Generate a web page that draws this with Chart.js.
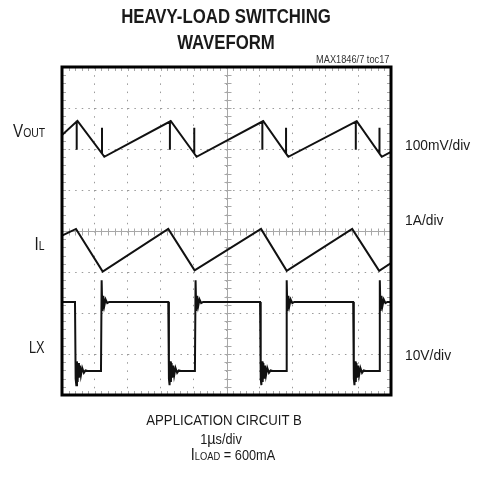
<!DOCTYPE html>
<html>
<head>
<meta charset="utf-8">
<script src="https://cdn.jsdelivr.net/npm/chart.js@4.4.1/dist/chart.umd.min.js"></script>
<style>
  body { margin: 0; background: #fff; }
  #wrap { position: relative; width: 480px; height: 481px; font-family: "Liberation Sans", Arial, sans-serif; color: #1a1a1a; }
  #wrap canvas { position: absolute; left: 0; top: 0; }
  .t { position: absolute; white-space: nowrap; line-height: 1; }
  .c { transform: translateX(-50%) scaleX(0.85); }
  .r { transform-origin: right; transform: scaleX(0.8); }
  .l { transform-origin: left; transform: scaleX(0.92); }
</style>
</head>
<body>
<div id="wrap">
  <canvas id="scope" width="480" height="481"></canvas>

  <div class="t" style="left:226px; top:4.5px; font-size:21px; font-weight:bold; transform:translateX(-50%) scaleX(0.8)">HEAVY-LOAD SWITCHING</div>
  <div class="t" style="left:226px; top:31px; font-size:21px; font-weight:bold; transform:translateX(-50%) scaleX(0.8)">WAVEFORM</div>
  <div class="t" style="right:91px; top:54.4px; font-size:10.5px; color:#333; transform-origin:right; transform:scaleX(0.88)">MAX1846/7 toc17</div>

  <div class="t r" style="right:435px; top:121px; font-size:19px">V<span style="font-size:13px">OUT</span></div>
  <div class="t r" style="right:435px; top:234px; font-size:19px">I<span style="font-size:13px">L</span></div>
  <div class="t r" style="right:435px; top:340px; font-size:16px">LX</div>

  <div class="t l" style="left:405px; top:136.6px; font-size:15px">100mV/div</div>
  <div class="t l" style="left:405px; top:211.6px; font-size:15px">1A/div</div>
  <div class="t l" style="left:405px; top:346.5px; font-size:15px">10V/div</div>

  <div class="t c" style="left:224px; top:412px; font-size:15.5px">APPLICATION CIRCUIT B</div>
  <div class="t c" style="left:221px; top:429.8px; font-size:15px">1<span style="font-size:17px">µ</span>s/div</div>
  <div class="t c" style="left:233px; top:445.5px; font-size:15px"><span style="font-size:17px">I</span><span style="font-size:11px">LOAD</span> = 600mA</div>
</div>

<script>
// time axis in divisions (1 µs/div), levels in screen divisions (0 = bottom graticule line)
const gridX = [0, 1, 2, 3, 4, 5, 6, 7, 8, 9, 10];
const gridY = [0, 1, 2, 3, 4, 5, 6, 7, 8];

const voutTime = [0,
  0.447, 0.447, 0.447, 0.477, 1.216, 1.216, 1.216, 1.286,
  3.28, 3.28, 3.28, 3.31, 4.02, 4.02, 4.02, 4.09,
  6.09, 6.09, 6.09, 6.12, 6.81, 6.81, 6.81, 6.88,
  8.93, 8.93, 8.93, 8.96, 9.65, 9.65, 9.65, 9.72,
  10];
const voutLevel = [6.34,
  6.67, 5.98, 6.67, 6.68, 5.89, 6.52, 5.89, 5.81,
  6.67, 5.98, 6.67, 6.68, 5.89, 6.52, 5.89, 5.81,
  6.67, 5.98, 6.67, 6.68, 5.89, 6.52, 5.89, 5.81,
  6.67, 5.98, 6.67, 6.68, 5.89, 6.52, 5.89, 5.81,
  5.93];

const ilTime = [0, 0.426, 1.237, 3.23, 4.03, 6.05, 6.83, 8.82, 9.64, 10];
const ilLevel = [3.89, 4.05, 3.01, 4.05, 3.04, 4.05, 3.03, 4.05, 3.03, 3.22];

const lxTime = [0,
  0.395, 0.415, 0.435, 0.455, 0.475, 0.495, 0.515, 0.545, 0.575, 0.615, 0.665, 0.715, 0.775,
  1.185, 1.205, 1.225, 1.255, 1.285, 1.325, 1.375, 1.435,
  3.23, 3.25, 3.27, 3.29, 3.31, 3.33, 3.35, 3.38, 3.41, 3.45, 3.50, 3.55, 3.61,
  4.04, 4.06, 4.08, 4.11, 4.14, 4.18, 4.23, 4.29,
  6.02, 6.04, 6.06, 6.08, 6.10, 6.12, 6.14, 6.17, 6.20, 6.24, 6.29, 6.34, 6.40,
  6.81, 6.83, 6.85, 6.88, 6.91, 6.95, 7.00, 7.06,
  8.85, 8.87, 8.89, 8.91, 8.93, 8.95, 8.97, 9.00, 9.03, 9.07, 9.12, 9.17, 9.23,
  9.64, 9.66, 9.68, 9.71, 9.74, 9.78, 9.83, 9.89,
  10];
const lxLevel = [2.27,
  2.27, 0.40, 0.24, 0.82, 0.32, 0.78, 0.42, 0.72, 0.48, 0.66, 0.54, 0.60, 0.585,
  0.585, 2.80, 2.05, 2.42, 2.17, 2.33, 2.24, 2.27,
  2.27, 0.40, 0.24, 0.82, 0.32, 0.78, 0.42, 0.72, 0.48, 0.66, 0.54, 0.60, 0.585,
  0.585, 2.80, 2.05, 2.42, 2.17, 2.33, 2.24, 2.27,
  2.27, 0.40, 0.24, 0.82, 0.32, 0.78, 0.42, 0.72, 0.48, 0.66, 0.54, 0.60, 0.585,
  0.585, 2.80, 2.05, 2.42, 2.17, 2.33, 2.24, 2.27,
  2.27, 0.40, 0.24, 0.82, 0.32, 0.78, 0.42, 0.72, 0.48, 0.66, 0.54, 0.60, 0.585,
  0.585, 2.80, 2.05, 2.42, 2.17, 2.33, 2.24, 2.27,
  2.27];

function trace(times, levels) {
  return {
    data: times.map((t, i) => ({ x: t, y: levels[i] })),
    borderColor: "#111",
    borderWidth: 2,
    pointRadius: 0,
    tension: 0,
    fill: false,
  };
}

// -------- graticule ticks + frame
const scopeMarks = {
  id: "scopeMarks",
  beforeDatasetsDraw(chart) {
    const { ctx, chartArea: a, scales: { x, y } } = chart;
    const cx = Math.round(x.getPixelForValue(gridX[5])) + 0.5;
    const cy = Math.round(y.getPixelForValue(gridY[4])) + 0.5;
    ctx.save();
    ctx.strokeStyle = "#a8a8a8";
    ctx.lineWidth = 1;
    ctx.beginPath();
    ctx.moveTo(a.left, cy); ctx.lineTo(a.right, cy);
    ctx.moveTo(cx, a.top); ctx.lineTo(cx, a.bottom);
    for (let i = 1; i < 50; i++) {
      const px = Math.round(x.getPixelForValue(i / 5)) + 0.5;
      ctx.moveTo(px, cy - 3); ctx.lineTo(px, cy + 4);
      ctx.moveTo(px, a.top); ctx.lineTo(px, a.top + 4);
      ctx.moveTo(px, a.bottom); ctx.lineTo(px, a.bottom - 4);
    }
    for (let i = 1; i < 40; i++) {
      const py = Math.round(y.getPixelForValue(i / 5)) + 0.5;
      ctx.moveTo(cx - 3, py); ctx.lineTo(cx + 4, py);
      ctx.moveTo(a.left, py); ctx.lineTo(a.left + 4, py);
      ctx.moveTo(a.right, py); ctx.lineTo(a.right - 4, py);
    }
    ctx.stroke();
    ctx.restore();
  },
  afterDatasetsDraw(chart) {
    const { ctx, chartArea: a } = chart;
    ctx.save();
    ctx.strokeStyle = "#000";
    ctx.lineWidth = 3;
    ctx.strokeRect(a.left, a.top, a.right - a.left, a.bottom - a.top);
    ctx.restore();
  },
};

new Chart(document.getElementById("scope"), {
  type: "line",
  data: {
    datasets: [
      trace(voutTime, voutLevel),
      trace(ilTime, ilLevel),
      trace(lxTime, lxLevel),
    ],
  },
  options: {
    responsive: false,
    animation: false,
    devicePixelRatio: 1,
    layout: { padding: { left: 62, top: 67, right: 89, bottom: 86 } },
    plugins: { legend: { display: false }, tooltip: { enabled: false } },
    scales: {
      x: {
        type: "linear",
        min: gridX[0],
        max: gridX[gridX.length - 1],
        ticks: { display: false, stepSize: 1 },
        grid: { color: "#9a9a9a", drawTicks: false },
        border: { display: false, dash: [1.5, 6.7] },
      },
      y: {
        type: "linear",
        min: gridY[0],
        max: gridY[gridY.length - 1],
        ticks: { display: false, stepSize: 1 },
        grid: { color: "#9a9a9a", drawTicks: false },
        border: { display: false, dash: [1.5, 5.08] },
      },
    },
  },
  plugins: [scopeMarks],
});
</script>
</body>
</html>
